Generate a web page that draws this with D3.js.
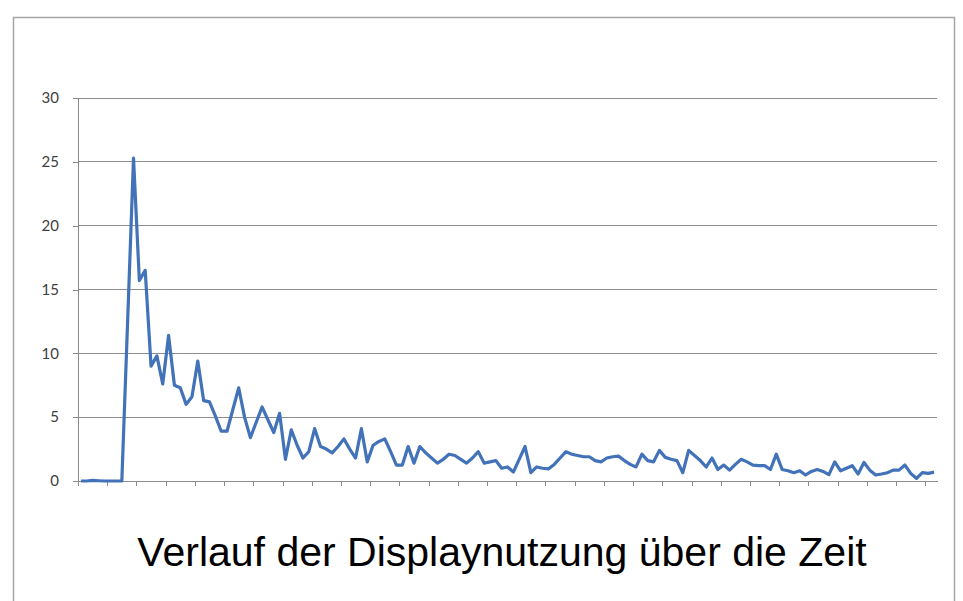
<!DOCTYPE html>
<html>
<head>
<meta charset="utf-8">
<script src="https://cdn.jsdelivr.net/npm/d3@7"></script>
<style>
  html, body { margin: 0; padding: 0; background: #fff; }
  svg { display: block; }
  .axis path, .axis line { stroke: #8c8c8c; shape-rendering: crispEdges; }
  .axis text { fill: #404040; font-family: Lato, "Open Sans", sans-serif; font-size: 15px; }
  .grid line { stroke: #8c8c8c; shape-rendering: crispEdges; }
  .line { fill: none; stroke: #4272b8; stroke-width: 3.2; stroke-linejoin: round; }
</style>
</head>
<body>
<svg id="chart"></svg>
<script>
// y axis ticks
const yTicks = [0, 5, 10, 15, 20, 25, 30]

// display usage per period
const usage = [
  0, 0, 0.05, 0.02, 0, 0, 0, 0, 12.6, 25.3,
  15.7, 16.5, 9.0, 9.8, 7.6, 11.4, 7.5, 7.3, 6.0, 6.6,
  9.4, 6.3, 6.2, 5.1, 3.9, 3.9, 5.6, 7.3, 5.0, 3.4,
  4.6, 5.8, 4.8, 3.8, 5.3, 1.7, 4.0, 2.8, 1.8, 2.3,
  4.1, 2.7, 2.5, 2.2, 2.7, 3.3, 2.5, 1.8, 4.1, 1.5,
  2.8, 3.1, 3.3, 2.3, 1.25, 1.25, 2.7, 1.4, 2.7, 2.2,
  1.8, 1.4, 1.7, 2.1, 2.0, 1.7, 1.4, 1.8, 2.3, 1.4,
  1.5, 1.6, 1.0, 1.1, 0.7, 1.7, 2.7, 0.65, 1.1, 1.0,
  0.95, 1.3, 1.8, 2.3, 2.1, 2.0, 1.9, 1.9, 1.6, 1.5,
  1.8, 1.9, 1.95, 1.6, 1.3, 1.1, 2.1, 1.6, 1.5, 2.4,
  1.85, 1.7, 1.6, 0.65, 2.4, 2.0, 1.6, 1.1, 1.8, 0.9,
  1.25, 0.85, 1.3, 1.7, 1.5, 1.25, 1.2, 1.2, 0.9, 2.1,
  0.9, 0.8, 0.65, 0.8, 0.47, 0.75, 0.9, 0.75, 0.5, 1.5,
  0.8, 1.0, 1.2, 0.55, 1.45, 0.85, 0.47, 0.55, 0.65, 0.85,
  0.85, 1.25, 0.6, 0.2, 0.65, 0.6, 0.7
]

// one category per reading
const periods = usage.map((d, i) => i)

const title = 'Verlauf der Displaynutzung über die Zeit'

const defaults = {
  target: '#chart',
  width: 963,
  height: 601,
  // plot area
  plot: { left: 78, right: 937, top: 98, bottom: 481 },
  // a tick mark every n categories
  tickEvery: 5
}

/**
 * LineChart.
 */

class LineChart {

  constructor(config) {
    this.conf = Object.assign({}, defaults, config)
    this.init()
  }

  /**
   * Initialize svg, frame and scales.
   */

  init() {
    const { target, width, height, plot } = this.conf

    this.svg = d3.select(target)
      .attr('width', width)
      .attr('height', height)

    // outer frame, runs off the bottom
    this.svg.append('rect')
      .attr('x', 13.5)
      .attr('y', 17.5)
      .attr('width', 941)
      .attr('height', 620)
      .attr('fill', '#fff')
      .attr('stroke', '#a6a6a6')
      .attr('stroke-width', 1.5)

    this.xScale = d3.scaleLinear()
      .domain([0, periods.length])
      .range([plot.left, plot.right])

    this.yScale = d3.scaleLinear()
      .domain([0, 30])
      .range([plot.bottom, plot.top])
  }

  /**
   * Render axis and grid.
   */

  renderAxis() {
    const { svg, xScale, yScale } = this
    const { plot, tickEvery } = this.conf

    svg.append('g')
      .attr('class', 'grid')
      .selectAll('line')
      .data(yTicks.filter(d => d > 0))
      .enter()
      .append('line')
      .attr('x1', plot.left)
      .attr('x2', plot.right)
      .attr('y1', d => yScale(d))
      .attr('y2', d => yScale(d))

    const yAxis = d3.axisLeft(yScale)
      .tickValues(yTicks)
      .tickSize(5)
      .tickSizeOuter(0)
      .tickPadding(14)

    svg.append('g')
      .attr('class', 'y axis')
      .attr('transform', `translate(${plot.left}, 0)`)
      .call(yAxis)

    const xAxis = d3.axisBottom(xScale)
      .tickValues(d3.range(0, periods.length, tickEvery))
      .tickSize(5)
      .tickSizeOuter(0)
      .tickFormat('')

    svg.append('g')
      .attr('class', 'x axis')
      .attr('transform', `translate(0, ${plot.bottom})`)
      .call(xAxis)
  }

  /**
   * Render line.
   */

  renderLine() {
    const { svg, xScale, yScale } = this
    const line = d3.line()
      .x(i => xScale(i + 0.5))
      .y(i => yScale(usage[i]))

    svg.append('path')
      .attr('class', 'line')
      .attr('d', line(periods))
  }

  /**
   * Title under the chart.
   */

  renderTitle() {
    this.svg.append('text')
      .attr('x', 502)
      .attr('y', 566)
      .attr('text-anchor', 'middle')
      .attr('font-family', '"Liberation Sans", Arial, sans-serif')
      .attr('font-size', 41)
      .attr('fill', '#000')
      .text(title)
  }

  render() {
    this.renderAxis()
    this.renderLine()
    this.renderTitle()
  }
}

new LineChart().render()
</script>
</body>
</html>
